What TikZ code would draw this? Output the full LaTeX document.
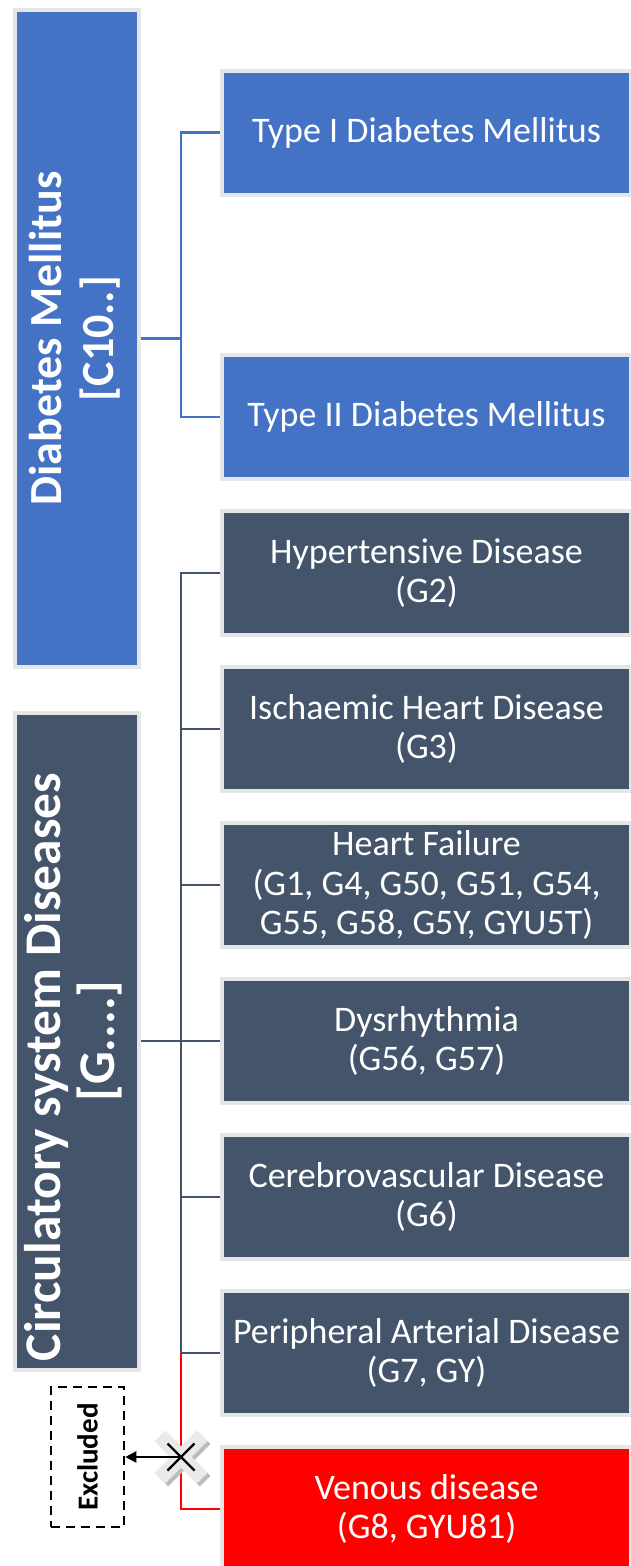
\documentclass[tikz,border=0pt]{standalone}
\usepackage{fontspec}
\setmainfont{Carlito}
\usetikzlibrary{arrows.meta}
\definecolor{dmblue}{HTML}{4472C4}
\definecolor{slate}{HTML}{44546A}
\definecolor{vred}{HTML}{FF0000}
\definecolor{edgegray}{HTML}{E7E6E6}
\definecolor{shadowgray}{HTML}{BDBDBD}
\definecolor{crossgray}{HTML}{EAEAEA}
\begin{document}
\begin{tikzpicture}[x=1pt,y=-1pt,
  box/.style={rectangle, draw=edgegray, line width=4pt, inner sep=0pt, text=white, align=center},
  rbox/.style={box, minimum width=409pt, minimum height=124pt, font=\fontsize{36}{39.5}\selectfont},
  lbox/.style={box, minimum width=124pt, minimum height=657pt},
  link/.style={line width=2.3pt},
  crossarm/.style={rotate=45},
]
\useasboundingbox (0,0) rectangle (631,1566);
\clip (0,0) rectangle (631,1566);

% left category boxes
\node[lbox, fill=dmblue] (diab) at (77,338.5)
  {\rotatebox{90}{\fontsize{46}{52}\selectfont\bfseries\begin{tabular}{@{}c@{}}Diabetes Mellitus\\ {[C10..]}\end{tabular}}};
\node[lbox, fill=slate] (circ) at (77,1041)
  {\rotatebox{90}{\fontsize{51.5}{53}\selectfont\bfseries\begin{tabular}{@{}c@{}}\hspace*{-52pt}Circulatory system Diseases\\ {[G....]}\end{tabular}}};

% right boxes
\node[rbox, fill=dmblue] (t1) at (426.5,132.5) {Type I Diabetes Mellitus};
\node[rbox, fill=dmblue] (t2) at (426.5,417) {Type II Diabetes Mellitus};
\node[rbox, fill=slate] (hyp) at (426.5,573) {Hypertensive Disease\\(G2)};
\node[rbox, fill=slate] (isc) at (426.5,729) {Ischaemic Heart Disease\\(G3)};
\node[rbox, fill=slate] (hf) at (426.5,885) {Heart Failure\\(G1, G4, G50, G51, G54,\\G55, G58, G5Y, GYU5T)};
\node[rbox, fill=slate] (dys) at (426.5,1041) {Dysrhythmia\\(G56, G57)};
\node[rbox, fill=slate] (cer) at (426.5,1197) {Cerebrovascular Disease\\(G6)};
\node[rbox, fill=slate] (per) at (426.5,1353) {Peripheral Arterial Disease\\(G7, GY)};
\node[rbox, fill=vred] (ven) at (426.5,1509) {Venous disease\\(G8, GYU81)};

% excluded box
\node[draw=black, line width=2.5pt, dash pattern=on 9pt off 6pt, minimum width=73pt, minimum height=140pt, inner sep=0pt] (excl) at (87.5,1457)
  {\rotatebox{90}{\fontsize{29}{32}\selectfont\bfseries Excluded}};

% diabetes connectors
\coordinate (dj) at (181,338.5);
\draw[link, dmblue] (diab.east) -- (dj);
\draw[link, dmblue] (t1.west) -| (dj) |- (t2.west);

% circulatory connectors
\coordinate (cj) at (181,1041);
\draw[link, slate] (circ.east) -- (dys.west);
\draw[link, slate] (hyp.west) -| (cj) |- (per.west);
\draw[link, slate] (isc.west) -- (isc.west -| cj);
\draw[link, slate] (hf.west) -- (hf.west -| cj);
\draw[link, slate] (cer.west) -- (cer.west -| cj);
\draw[link, vred] (per.west -| cj) |- (ven.west);

% exclusion cross
\coordinate (xm) at (181,1457);
\begin{scope}[shift={(xm)}]
  \begin{scope}[shift={(3,3)}]
    \fill[shadowgray, crossarm] (-30,-7.5) rectangle (30,7.5);
    \fill[shadowgray, rotate=-45] (-30,-7.5) rectangle (30,7.5);
  \end{scope}
  \fill[crossgray, crossarm] (-30,-7.5) rectangle (30,7.5);
  \fill[crossgray, rotate=-45] (-30,-7.5) rectangle (30,7.5);
\end{scope}
\draw[line width=2.3pt, -{Triangle[length=11pt,width=11pt]}] (xm) -- (excl.east);
\draw[line width=2.3pt] ([shift={(-13.5,-13.5)}]xm) -- ([shift={(13.5,13.5)}]xm);
\draw[line width=2.3pt] ([shift={(13.5,-13.5)}]xm) -- ([shift={(-13.5,13.5)}]xm);
\end{tikzpicture}
\end{document}
